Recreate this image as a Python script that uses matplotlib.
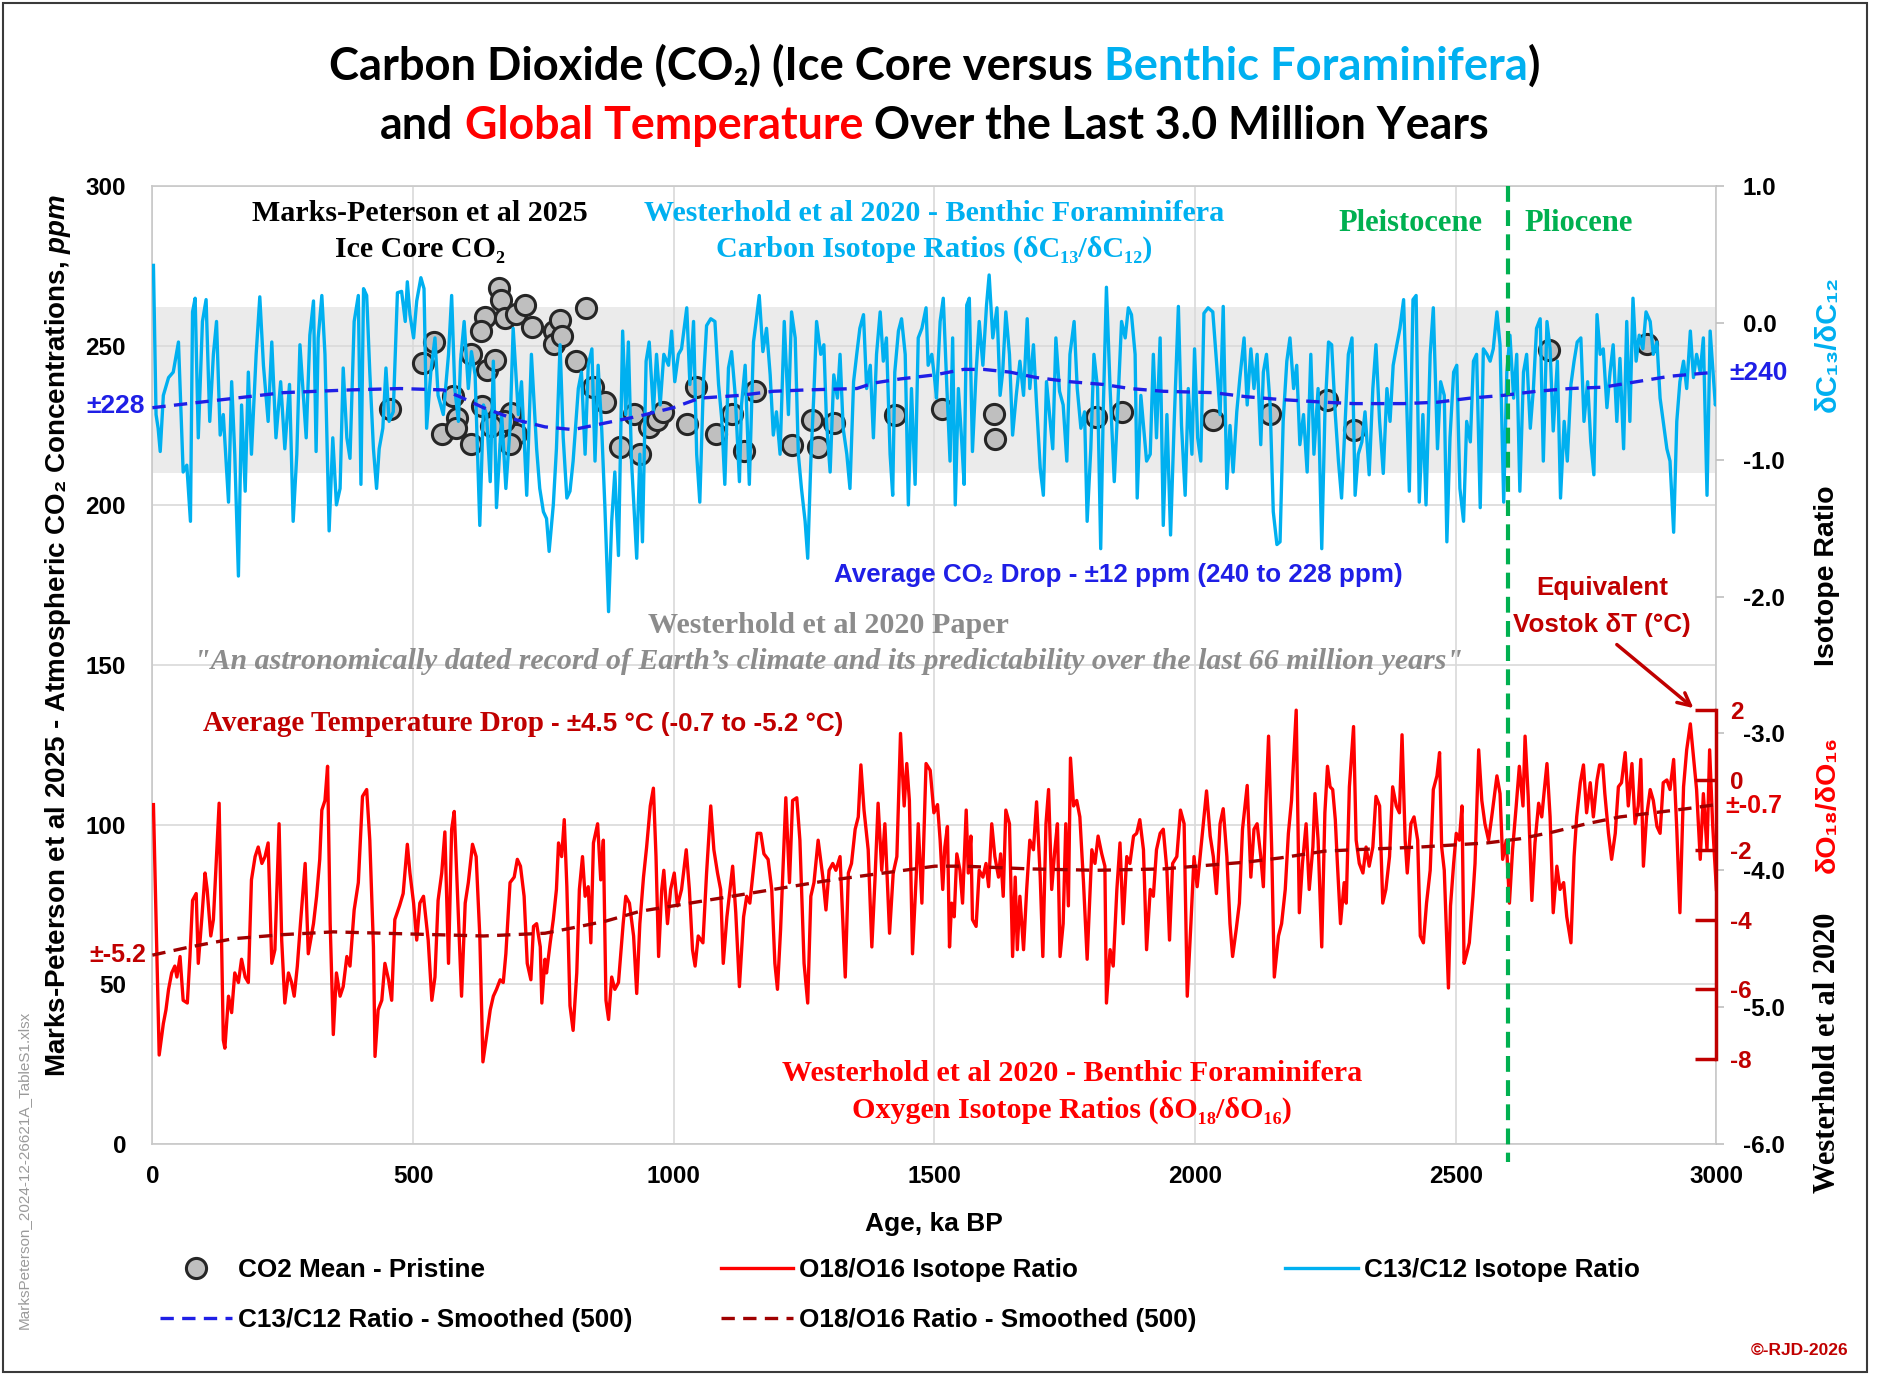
import matplotlib
matplotlib.use('Agg')
import matplotlib.pyplot as plt
from matplotlib.lines import Line2D
from matplotlib.patches import Rectangle
from matplotlib.ticker import FormatStrFormatter

# ----------------------------------------------------------------- data ----
# Ice core CO2 (Marks-Peterson et al 2025): (age ka BP, ppm)
co2_points = [
    (456, 230.1), (520, 244.7), (541, 251.1), (555, 222.2), (585, 227.4), (576, 234.2),
    (583, 224.1), (612, 219.2), (633, 231.2), (612, 247.4), (638, 259.0), (631, 254.5),
    (642, 242.5), (658, 245.5), (665, 268.0), (668, 264.3), (677, 258.6), (698, 259.8),
    (714, 262.8), (728, 256.0), (688, 229.0), (698, 222.2), (686, 219.2), (675, 226.3),
    (649, 224.8), (771, 254.5), (781, 257.9), (771, 250.4), (785, 253.0), (813, 245.1),
    (831, 261.7), (845, 237.2), (868, 232.3), (896, 218.4), (923, 228.6), (935, 216.2),
    (953, 224.4), (967, 226.7), (979, 229.3), (1025, 225.6), (1043, 237.2), (1082, 222.2),
    (1112, 228.6), (1135, 216.9), (1156, 235.7), (1227, 218.8), (1266, 226.7), (1276, 218.4),
    (1308, 225.9), (1425, 228.2), (1515, 230.1), (1614, 228.6), (1616, 220.7), (1810, 227.8),
    (1860, 229.3), (2035, 226.7), (2144, 228.6), (2254, 233.1), (2305, 223.7), (2678, 248.5),
    (2867, 250.4),
]

# Benthic foraminifera delta-13C (Westerhold et al 2020): (age ka, ratio)
c13_points = [
    (2, 0.42), (7, -0.67), (11, -0.77), (15, -0.94), (21, -0.53), (31, -0.40), (40, -0.36),
    (50, -0.14), (59, -1.09), (66, -1.04), (73, -1.45), (77, 0.08), (82, 0.18), (88, -0.84),
    (96, 0.01), (103, 0.17), (110, -0.72), (117, -0.23), (123, 0.01), (130, -0.82), (136, -0.67),
    (146, -1.31), (152, -0.43), (158, -0.96), (165, -1.85), (171, -0.60), (178, -1.23),
    (184, -0.36), (190, -0.96), (199, -0.23), (206, 0.19), (213, -0.31), (222, -0.72),
    (229, -0.14), (237, -0.84), (246, -0.43), (254, -0.92), (263, -0.45), (270, -1.45),
    (277, -0.96), (283, -0.16), (290, -0.55), (295, -0.84), (302, -0.09), (309, 0.16),
    (314, -0.94), (318, -0.11), (325, 0.20), (331, -0.23), (339, -1.52), (346, -0.84),
    (353, -1.33), (360, -1.21), (366, -0.33), (373, -0.84), (379, -0.99), (387, 0.01),
    (395, 0.20), (400, -1.18), (405, 0.25), (411, 0.20), (417, -0.36), (424, -0.92),
    (430, -1.21), (435, -0.92), (442, -0.77), (448, -0.33), (454, -0.72), (462, -0.65),
    (470, 0.22), (478, 0.23), (485, 0.01), (489, 0.30), (494, 0.06), (501, -0.11), (507, 0.16),
    (515, 0.33), (521, 0.25), (526, -0.77), (534, -0.36), (542, -0.11), (548, -0.53),
    (558, -0.67), (568, -0.23), (574, 0.20), (580, -0.48), (587, -0.72), (591, -0.28),
    (598, 0.01), (606, -0.48), (612, -0.21), (619, -0.38), (628, -1.48), (635, -0.60),
    (641, -0.67), (648, -1.16), (654, -0.28), (660, -1.35), (670, -0.67), (678, -1.21),
    (686, -0.77), (692, -0.04), (702, -0.67), (708, -0.43), (718, -1.26), (727, -0.23),
    (737, -0.92), (743, -1.21), (750, -1.38),
    (756, -1.43), (761, -1.67), (769, -1.33), (775, -0.92), (782, -0.16), (788, -0.84),
    (795, -1.28), (801, -1.23), (807, -1.01), (817, -0.48), (823, -0.36), (830, -0.96),
    (836, -0.31), (843, -0.19), (849, -1.01), (855, -0.31), (862, -0.79), (868, -1.35),
    (875, -2.11), (881, -1.45), (887, -1.09), (894, -1.70), (902, -0.06), (908, -0.67),
    (913, -0.14), (919, -1.01), (929, -1.72), (935, -0.96), (940, -1.60), (947, -0.28),
    (953, -0.14), (961, -0.65), (967, -0.23), (974, -0.60), (981, -0.23), (990, -0.31),
    (996, -0.06), (1002, -0.43), (1009, -0.23), (1015, -0.19), (1025, 0.11), (1031, -0.45),
    (1038, 0.01), (1044, -0.96), (1050, -1.31), (1057, -0.43), (1063, -0.02), (1071, 0.03),
    (1079, 0.01), (1086, -0.45), (1092, -0.70), (1098, -1.18), (1105, -0.33), (1111, -0.21),
    (1118, -0.53), (1126, -1.16), (1130, -0.60), (1137, -0.31), (1145, -1.18), (1153, -0.14),
    (1158, 0.01), (1164, 0.20), (1171, -0.21), (1178, -0.04), (1185, -0.38), (1191, -0.82),
    (1197, -0.65), (1204, -0.96), (1212, 0.01), (1220, -0.67), (1226, 0.08), (1233, -0.11),
    (1239, -0.96), (1245, -1.21), (1252, -1.45), (1257, -1.72), (1263, -1.01), (1269, -0.50),
    (1274, 0.01), (1282, -0.23), (1288, -0.16), (1293, -0.72), (1300, -1.09), (1307, -0.38),
    (1314, -0.55), (1319, -0.23), (1325, -0.77), (1332, -0.96), (1338, -1.21), (1345, -0.43),
    (1351, -0.23), (1357, -0.04), (1364, 0.06), (1370, -0.48), (1377, -0.31), (1383, -0.84),
    (1389, -0.23), (1396, 0.08), (1402, -0.28), (1408, -0.11), (1415, -0.96), (1420, -1.26),
    (1424, -0.36), (1431, -0.06), (1437, 0.03), (1444, -0.23), (1450, -1.33), (1456, -0.48),
    (1463, -1.18), (1469, -0.11), (1476, -0.04), (1484, 0.11), (1488, -0.31), (1495, -0.23),
    (1501, -0.43),
    (1504, -0.55), (1511, 0.01), (1517, 0.18), (1524, -0.48), (1530, -1.01), (1535, -0.11),
    (1540, -1.33), (1546, -0.48), (1552, -0.84), (1557, -1.18), (1562, 0.13), (1567, 0.18),
    (1573, -0.94), (1580, -0.36), (1586, 0.01), (1593, -0.31), (1600, 0.13), (1605, 0.35),
    (1612, -0.11), (1620, 0.11), (1626, -0.53), (1631, -0.36), (1637, 0.08), (1644, -0.23),
    (1650, -0.82), (1657, -0.53), (1664, -0.28), (1671, -0.53), (1678, 0.03), (1683, -0.48),
    (1690, -0.16), (1696, -0.60), (1703, -1.06), (1709, -1.26), (1715, -0.43), (1722, -0.72),
    (1727, -0.92), (1733, -0.11), (1740, -0.50), (1747, -0.60), (1754, -1.01), (1760, -0.23),
    (1768, 0.01), (1774, -0.48), (1781, -0.77), (1788, -0.65), (1793, -1.45), (1800, -0.92),
    (1806, -0.23), (1813, -0.48), (1819, -1.65), (1824, -0.62), (1830, 0.26), (1837, -0.48),
    (1845, -1.16), (1851, -0.67), (1859, 0.01), (1866, -0.11), (1872, 0.11), (1878, 0.06),
    (1885, -0.23), (1889, -1.28), (1896, -0.53), (1901, -0.75), (1907, -1.01), (1914, -0.96),
    (1920, -0.23), (1926, -0.84), (1933, -0.11), (1939, -1.48), (1946, -0.67), (1953, -1.55),
    (1960, -0.72), (1968, 0.12), (1974, -0.75), (1981, -1.26), (1987, -0.48), (1994, -0.96),
    (1999, -0.19), (2005, -0.84), (2011, -1.01), (2017, 0.07), (2025, 0.11), (2034, 0.08),
    (2042, -0.33), (2048, -0.67), (2054, 0.12), (2061, -1.21), (2067, -0.75), (2073, -1.09),
    (2080, -0.65), (2086, -0.40), (2094, -0.11), (2100, -0.60), (2107, -0.19), (2113, -0.48),
    (2119, -0.23), (2126, -0.89), (2131, -0.36), (2137, -0.23), (2144, -0.60), (2150, -1.38),
    (2157, -1.62), (2163, -1.60), (2169, -0.72), (2176, -0.28), (2182, -0.11), (2189, -0.48),
    (2195, -0.31), (2201, -0.89), (2208, -0.67), (2215, -1.09), (2222, -0.23), (2228, -0.96),
    (2236, -0.48), (2243, -1.65), (2249, -0.67),
    (2256, -0.14), (2262, -0.16), (2269, -0.67), (2275, -1.01), (2281, -1.28), (2288, -0.72),
    (2294, -0.23), (2301, -0.11), (2307, -1.26), (2313, -0.96), (2320, -0.87), (2326, -0.65),
    (2334, -1.11), (2341, -0.48), (2347, -0.16), (2354, -0.72), (2361, -1.10), (2368, -0.48),
    (2374, -0.72), (2380, -0.31), (2387, -0.16), (2393, -0.04), (2400, 0.17), (2406, -0.60),
    (2411, -1.23), (2418, 0.17), (2424, 0.20), (2430, -1.31), (2437, -0.67), (2443, -1.33),
    (2451, -0.23), (2457, 0.11), (2465, -0.92), (2471, -0.43), (2478, -0.53), (2483, -1.60),
    (2489, -0.84), (2496, -0.36), (2502, -0.31), (2508, -1.21), (2515, -1.45), (2521, -0.72),
    (2528, -0.87), (2534, -0.28), (2540, -0.23), (2547, -1.35), (2553, -0.19), (2560, -0.23),
    (2566, -0.28), (2572, -0.19), (2579, 0.08), (2585, -0.16), (2592, -1.31), (2598, -0.36),
    (2604, -0.09), (2611, -0.55), (2617, -0.23), (2623, -1.23), (2630, -0.36), (2636, -0.23),
    (2643, -0.77), (2649, -0.48), (2655, -0.04), (2662, 0.03), (2668, -1.01), (2675, 0.01),
    (2681, -0.19), (2687, -0.79), (2695, -0.28), (2701, -1.28), (2708, -0.72), (2714, -1.01),
    (2721, -0.45), (2727, -0.28), (2733, -0.14), (2740, -0.11), (2746, -0.72), (2753, -0.43),
    (2759, -0.87), (2765, -1.11), (2771, 0.06), (2777, -0.23), (2783, -0.19), (2790, -0.62),
    (2796, -0.36), (2802, -0.16), (2809, -0.72), (2815, -0.26), (2822, -0.92), (2828, 0.01),
    (2834, -0.72), (2840, 0.18), (2846, -0.28), (2852, -0.09), (2859, -0.19), (2865, 0.08),
    (2873, 0.01), (2879, -0.23), (2886, -0.14), (2892, -0.55), (2898, -0.72), (2905, -0.92),
    (2911, -1.01), (2918, -1.53), (2924, -0.72), (2930, -0.43), (2937, -0.28), (2943, -0.48),
    (2950, -0.06), (2956, -0.40), (2962, -0.23), (2969, -0.36), (2975, -0.11), (2982, -1.26),
    (2988, -0.06), (2998, -0.60), (3000, -0.55),
]

# delta-13C smoothed (500)
c13_smooth_points = [
    (0, -0.62), (91, -0.58), (251, -0.51), (379, -0.49), (475, -0.48), (558, -0.49),
    (590, -0.54), (635, -0.62), (699, -0.71), (753, -0.76), (807, -0.78), (871, -0.73),
    (935, -0.68), (999, -0.62), (1050, -0.55), (1127, -0.53), (1191, -0.50), (1255, -0.49),
    (1351, -0.48), (1383, -0.44), (1434, -0.41), (1501, -0.38), (1556, -0.34), (1594, -0.34),
    (1645, -0.36), (1696, -0.40), (1760, -0.43), (1824, -0.45), (1875, -0.48), (1939, -0.50),
    (2035, -0.51), (2099, -0.54), (2163, -0.56), (2249, -0.58), (2304, -0.59), (2400, -0.59),
    (2464, -0.58), (2528, -0.55), (2591, -0.53), (2655, -0.50), (2719, -0.48), (2783, -0.47),
    (2847, -0.43), (2911, -0.39), (3000, -0.36),
]

# Benthic foraminifera delta-18O (Westerhold et al 2020): (age ka, ratio)
o18_points = [
    (2, -3.52), (13, -5.35), (21, -5.12), (26, -5.02), (31, -4.87), (37, -4.75), (43, -4.70),
    (47, -4.78), (53, -4.63), (59, -4.95), (67, -4.97), (72, -4.63), (77, -4.22), (84, -4.17),
    (88, -4.68), (95, -4.34), (101, -4.02), (105, -4.14), (112, -4.48), (117, -4.36),
    (128, -3.51), (136, -5.24), (139, -5.30), (146, -4.92), (152, -5.04), (158, -4.75),
    (165, -4.82), (171, -4.65), (178, -4.78), (184, -4.82), (190, -4.07), (197, -3.90),
    (203, -3.83), (210, -3.95), (216, -3.90), (222, -3.80), (229, -4.68), (235, -4.58),
    (243, -3.66), (248, -4.51), (254, -4.97), (261, -4.75), (267, -4.82), (272, -4.92),
    (278, -4.70), (284, -4.39), (293, -3.95), (299, -4.61), (309, -4.39), (315, -4.19),
    (321, -3.92), (325, -3.56), (331, -3.49), (336, -3.24), (341, -4.39), (347, -5.20),
    (353, -4.75), (360, -4.92), (366, -4.85), (373, -4.63), (379, -4.70), (387, -4.29),
    (395, -4.09), (403, -3.46), (411, -3.41), (417, -3.78), (424, -4.56), (427, -5.36),
    (433, -5.02), (440, -4.95), (446, -4.68), (453, -4.80), (459, -4.95), (465, -4.36),
    (474, -4.26), (481, -4.17), (489, -3.81), (494, -4.02), (501, -4.24), (507, -4.51),
    (513, -4.24), (520, -4.19), (529, -4.51), (536, -4.95), (542, -4.78), (548, -4.22),
    (555, -4.02), (561, -3.72), (568, -4.68), (574, -3.70), (579, -3.57), (585, -4.14),
    (593, -4.92), (600, -4.24), (606, -4.09), (614, -3.81), (621, -3.90), (628, -4.48),
    (634, -5.40), (640, -5.24), (648, -5.02), (654, -4.92), (660, -4.87), (667, -4.80),
    (673, -4.82), (678, -4.61), (686, -4.09), (694, -4.05), (700, -3.92), (706, -3.97),
    (713, -4.19), (719, -4.68), (726, -4.80), (731, -4.41), (737, -4.39), (744, -4.56),
    (747, -4.97), (753, -4.65),
    (756, -4.75), (763, -4.53), (769, -4.36), (775, -4.14), (779, -3.80), (785, -3.90),
    (790, -3.63), (795, -4.12), (801, -4.99), (807, -5.17), (814, -4.75), (819, -4.14),
    (825, -3.90), (830, -4.19), (836, -4.12), (841, -4.53), (846, -3.80), (854, -3.66),
    (860, -4.07), (865, -3.78), (870, -4.95), (875, -5.09), (881, -4.78), (887, -4.87),
    (894, -4.82), (898, -4.63), (903, -4.39), (908, -4.19), (915, -4.24), (923, -4.48),
    (929, -4.90), (935, -4.39), (942, -4.05), (948, -3.83), (955, -3.53), (961, -3.40),
    (966, -3.90), (971, -4.63), (977, -4.14), (981, -4.00), (988, -4.39), (994, -4.14),
    (1001, -4.02), (1007, -4.26), (1015, -4.14), (1024, -3.85), (1030, -4.14), (1036, -4.58),
    (1041, -4.70), (1047, -4.48), (1056, -4.53), (1063, -4.02), (1071, -3.53), (1077, -3.85),
    (1084, -4.02), (1090, -4.14), (1095, -4.68), (1102, -4.34), (1108, -4.14), (1113, -3.97),
    (1119, -4.31), (1126, -4.85), (1134, -4.34), (1140, -4.19), (1146, -4.24), (1154, -3.95),
    (1160, -3.73), (1167, -3.73), (1173, -3.88), (1181, -3.92), (1188, -4.14), (1194, -4.68),
    (1199, -4.87), (1205, -4.43), (1210, -3.95), (1215, -3.47), (1222, -4.09), (1228, -3.49),
    (1236, -3.47), (1242, -3.78), (1250, -4.68), (1257, -4.97), (1263, -4.19), (1269, -4.09),
    (1277, -3.78), (1286, -4.05), (1292, -4.29), (1298, -4.00), (1305, -3.95), (1311, -4.00),
    (1319, -3.90), (1329, -4.78), (1335, -4.02), (1341, -3.95), (1348, -3.70), (1354, -3.61),
    (1359, -3.23), (1365, -3.56), (1373, -3.85), (1380, -4.56), (1386, -4.07), (1392, -3.51),
    (1399, -4.00), (1405, -3.66), (1414, -4.46), (1421, -4.02), (1428, -3.90), (1435, -3.00),
    (1442, -3.53), (1447, -3.22), (1452, -3.49), (1458, -4.61), (1465, -4.05), (1469, -3.66),
    (1476, -4.24), (1484, -3.22), (1492, -3.27), (1499, -3.58),
    (1506, -3.52), (1511, -3.78), (1516, -4.14), (1520, -3.83), (1525, -3.68), (1529, -4.56),
    (1533, -4.24), (1538, -4.34), (1543, -3.88), (1549, -4.00), (1554, -4.24), (1561, -3.56),
    (1565, -4.02), (1570, -3.75), (1573, -4.36), (1580, -4.41), (1586, -4.00), (1593, -4.05),
    (1599, -3.95), (1604, -4.12), (1610, -3.66), (1616, -3.90), (1623, -4.05), (1627, -3.88),
    (1632, -4.19), (1637, -3.56), (1644, -3.66), (1650, -4.63), (1655, -4.05), (1659, -4.58),
    (1664, -4.19), (1671, -4.58), (1677, -4.14), (1683, -3.78), (1690, -3.85), (1696, -3.50),
    (1703, -4.05), (1708, -4.63), (1714, -3.66), (1719, -3.41), (1725, -4.14), (1731, -3.85),
    (1736, -3.66), (1741, -4.63), (1747, -4.39), (1752, -3.66), (1757, -4.26), (1761, -3.18),
    (1767, -3.53), (1773, -3.49), (1779, -3.61), (1786, -4.09), (1793, -4.65), (1802, -3.85),
    (1808, -3.95), (1814, -3.75), (1821, -3.88), (1827, -3.97), (1830, -4.97), (1837, -4.58),
    (1843, -4.70), (1850, -4.14), (1856, -3.80), (1862, -4.39), (1869, -3.90), (1875, -3.95),
    (1882, -3.75), (1888, -3.73), (1894, -3.63), (1901, -3.85), (1907, -4.58), (1914, -4.14),
    (1920, -4.19), (1926, -3.85), (1933, -3.73), (1939, -3.70), (1946, -4.00), (1951, -4.51),
    (1957, -3.95), (1965, -3.90), (1972, -3.56), (1979, -3.66), (1985, -4.92), (1992, -4.39),
    (1998, -3.90), (2004, -4.12), (2011, -3.85), (2016, -3.66), (2022, -3.42), (2029, -3.75),
    (2035, -3.90), (2041, -4.17), (2048, -3.66), (2054, -3.55), (2061, -3.90), (2067, -4.39),
    (2072, -4.63), (2079, -4.43), (2085, -4.24), (2091, -3.70), (2100, -3.38), (2107, -4.05),
    (2113, -3.70), (2119, -3.66), (2126, -3.90), (2131, -4.12), (2136, -3.49), (2141, -3.02),
    (2147, -3.85), (2152, -4.78), (2160, -4.48), (2166, -4.39), (2173, -4.14), (2179, -3.73),
    (2185, -3.49), (2194, -2.83), (2200, -4.31), (2206, -3.95), (2213, -3.66), (2219, -4.14),
    (2226, -3.83), (2230, -3.44), (2236, -3.78), (2243, -4.56), (2249, -3.58),
    (2254, -3.24), (2259, -3.39), (2264, -3.41), (2269, -3.63), (2273, -3.95), (2279, -4.39),
    (2286, -4.09), (2290, -4.24), (2296, -3.39), (2304, -2.95), (2309, -3.78), (2315, -3.95),
    (2322, -4.02), (2328, -3.83), (2334, -3.97), (2341, -3.83), (2347, -3.46), (2354, -3.53),
    (2360, -4.24), (2366, -4.14), (2373, -3.90), (2379, -3.39), (2386, -3.53), (2392, -3.58),
    (2397, -3.01), (2403, -3.78), (2407, -4.02), (2414, -3.66), (2420, -3.61), (2427, -3.78),
    (2432, -4.48), (2438, -4.53), (2444, -4.24), (2451, -4.00), (2457, -3.41), (2464, -3.31),
    (2469, -3.14), (2473, -3.83), (2478, -4.00), (2486, -4.86), (2490, -4.26), (2496, -3.95),
    (2501, -3.73), (2507, -3.78), (2512, -3.53), (2516, -4.68), (2521, -4.61), (2526, -4.53),
    (2533, -4.19), (2537, -3.95), (2544, -3.12), (2550, -3.49), (2556, -3.66), (2563, -3.78),
    (2569, -3.61), (2574, -3.46), (2579, -3.31), (2585, -3.44), (2590, -3.92), (2597, -3.78),
    (2603, -4.24), (2609, -3.85), (2616, -3.53), (2622, -3.24), (2629, -3.53), (2633, -3.02),
    (2639, -3.46), (2646, -4.22), (2652, -3.80), (2659, -3.51), (2665, -3.61), (2670, -3.41),
    (2675, -3.22), (2681, -3.61), (2687, -4.31), (2694, -3.97), (2700, -4.14), (2707, -4.09),
    (2713, -4.34), (2721, -4.53), (2727, -3.90), (2732, -3.61), (2739, -3.36), (2745, -3.23),
    (2751, -3.58), (2758, -3.36), (2764, -3.61), (2771, -3.34), (2776, -3.23), (2782, -3.23),
    (2786, -3.44), (2793, -3.73), (2799, -3.92), (2806, -3.73), (2812, -3.39), (2818, -3.36),
    (2825, -3.14), (2831, -3.53), (2838, -3.22), (2844, -3.66), (2850, -3.53), (2855, -3.19),
    (2860, -3.97), (2866, -3.61), (2873, -3.41), (2879, -3.49), (2886, -3.68), (2892, -3.73),
    (2898, -3.36), (2905, -3.34), (2911, -3.41), (2918, -3.19), (2924, -3.70), (2930, -4.31),
    (2937, -3.39), (2943, -3.12), (2950, -2.93), (2956, -3.17), (2962, -3.41), (2969, -3.92),
    (2975, -3.44), (2982, -3.85), (2987, -3.12), (2993, -3.68), (3000, -4.14),
]

# delta-18O smoothed (500)
o18_smooth_points = [
    (0, -4.62), (72, -4.56), (155, -4.50), (251, -4.47), (347, -4.45), (443, -4.46),
    (539, -4.47), (635, -4.48), (753, -4.46), (807, -4.42), (871, -4.37), (935, -4.30),
    (999, -4.26), (1095, -4.20), (1191, -4.14), (1287, -4.08), (1383, -4.03), (1501, -3.97),
    (1556, -3.97), (1683, -3.99), (1811, -4.00), (1939, -3.99), (2035, -3.96), (2099, -3.94),
    (2163, -3.91), (2249, -3.86), (2304, -3.85), (2432, -3.83), (2560, -3.80), (2623, -3.77),
    (2687, -3.72), (2751, -3.66), (2815, -3.61), (2879, -3.58), (2943, -3.55), (3000, -3.52),
]

x_ticks = [0, 500, 1000, 1500, 2000, 2500, 3000]
ppm_ticks = [0, 50, 100, 150, 200, 250, 300]
iso_ticks = [-6.0, -5.0, -4.0, -3.0, -2.0, -1.0, 0.0, 1.0]
temp_ticks = [2, 0, -2, -4, -6, -8]
band_ppm = (210, 262)            # grey band
pliocene_boundary = 2600          # ka
T_ZERO_ISO = -3.34                # d18O value equivalent to 0 degC (Vostok dT)
T_PER_ISO = 3.92                  # degC per unit of d18O
co2_avg_old, co2_avg_young = 240, 228

# ---------------------------------------------------------------- style ----
plt.rcParams['font.family'] = ['Liberation Sans', 'DejaVu Sans']
plt.rcParams['axes.unicode_minus'] = False
plt.rcParams['mathtext.fontset'] = 'custom'
plt.rcParams['mathtext.it'] = 'Liberation Sans:italic:bold'
plt.rcParams['mathtext.rm'] = 'Liberation Sans:bold'
plt.rcParams['mathtext.bf'] = 'Liberation Sans:bold'

SANS = ['Liberation Sans', 'DejaVu Sans']
SERIF = ['Liberation Serif', 'DejaVu Serif']
TITLEF = ['Lato', 'DejaVu Sans']
LIGHTBLUE = '#00B0F0'
RED = '#FF0000'
DARKRED = '#C00000'
BLUE = '#1F1FE6'
GREEN = '#00B050'
GREYTXT = '#8C8C8C'

W, H = 1882, 1375
fig = plt.figure(figsize=(W / 100, H / 100), dpi=100)
ax = fig.add_axes([152.4 / W, 1 - 1144 / H, 1564 / W, 958 / H])

ax.set_xlim(0, 3000)
ax.set_ylim(0, 300)
ax.set_xticks(x_ticks)
ax.set_yticks(ppm_ticks)
ax.grid(True, color='#D9D9D9', lw=1.2)
ax.set_axisbelow(True)
for s in ax.spines.values():
    s.set_color('#C8C8C8')
    s.set_linewidth(1.2)
ax.tick_params(axis='both', length=0, labelsize=17.5)
ax.tick_params(axis='x', pad=15)
ax.tick_params(axis='y', pad=19)
for lab in ax.get_xticklabels() + ax.get_yticklabels():
    lab.set_fontweight('bold')
ax.axhspan(band_ppm[0], band_ppm[1], color='#EBEBEB', zorder=0.3, lw=0)

co2_age = [a for a, _ in co2_points]
co2_ppm = [v for _, v in co2_points]
ax.plot(co2_age, co2_ppm, ls='none', marker='o', ms=14.5, mfc='#BFBFBF',
        mec='#262626', mew=2.2, zorder=2)

# isotope axis
ax2 = ax.twinx()
ax2.set_ylim(-6, 1)
ax2.set_yticks(iso_ticks)
ax2.yaxis.set_major_formatter(FormatStrFormatter('%.1f'))
for s in ax2.spines.values():
    s.set_visible(False)
ax2.tick_params(axis='y', direction='out', length=6, width=1.2, color='#BFBFBF',
                labelsize=17.5, pad=13)
for lab in ax2.get_yticklabels():
    lab.set_fontweight('bold')

c13_age = [a for a, _ in c13_points]
c13_val = [v for _, v in c13_points]
c13s_age = [a for a, _ in c13_smooth_points]
c13s_val = [v for _, v in c13_smooth_points]
o18_age = [a for a, _ in o18_points]
o18_val = [v for _, v in o18_points]
o18s_age = [a for a, _ in o18_smooth_points]
o18s_val = [v for _, v in o18_smooth_points]

ax2.plot(c13_age, c13_val, color=LIGHTBLUE, lw=2.4, zorder=2)
ax2.plot(o18_age, o18_val, color=RED, lw=2.4, zorder=2)
ax2.plot(c13s_age, c13s_val, color=BLUE, lw=2.4, ls=(0, (4, 2.5)), zorder=3)
ax2.plot(o18s_age, o18s_val, color='#A00000', lw=2.4, ls=(0, (4, 2.5)), zorder=3)
ax2.plot([pliocene_boundary, pliocene_boundary], [1.0, -6.13], color=GREEN, lw=3.0,
         ls=(0, (3.8, 2.0)), zorder=4, clip_on=False)

# temperature axis (Vostok dT)
ax3 = ax.twinx()
ax3.set_ylim((-6 - T_ZERO_ISO) * T_PER_ISO, (1 - T_ZERO_ISO) * T_PER_ISO)
for k, s in ax3.spines.items():
    s.set_visible(k == 'right')
ax3.spines['right'].set_bounds(min(temp_ticks), max(temp_ticks))
ax3.spines['right'].set_color(DARKRED)
ax3.spines['right'].set_linewidth(2.5)
ax3.set_yticks(temp_ticks, labels=[f'{t:g}' for t in temp_ticks])
ax3.tick_params(axis='y', direction='in', length=15, width=2.5, color=DARKRED,
                labelcolor=DARKRED, labelsize=17.5, pad=10)
for lab in ax3.get_yticklabels():
    lab.set_fontweight('bold')

# ---------------------------------------------------------- annotations ----
dT = ax.transData
def t3(x, y, s, **kw):
    kw.setdefault('ha', 'center')
    kw.setdefault('va', 'center')
    kw.setdefault('fontweight', 'bold')
    return ax3.text(x, y, s, transform=dT, zorder=10, **kw)

t3(513, 291.4, 'Marks-Peterson et al 2025', family=SERIF, size=21.6, color='black')
t3(513, 280.1, 'Ice Core CO\u2082', family=SERIF, size=21.6, color='black')
t3(1499, 291.4, 'Westerhold et al 2020 - Benthic Foraminifera', family=SERIF, size=21.7,
   color=LIGHTBLUE)
t3(1499, 280.1, 'Carbon Isotope Ratios (\u03b4C\u2081\u2083/\u03b4C\u2081\u2082)', family=SERIF,
   size=21.7, color=LIGHTBLUE)
t3(2413, 288.3, 'Pleistocene', family=SERIF, size=22, color=GREEN)
t3(2735, 288.3, 'Pliocene', family=SERIF, size=22, color=GREEN)
t3(1853, 178.2, 'Average CO\u2082 Drop - \u00b112 ppm (%d to %d ppm)' % (co2_avg_old, co2_avg_young),
   family=SANS, size=18.7, color=BLUE)
t3(1296, 162.4, 'Westerhold et al 2020 Paper', family=SERIF, size=21.7, color=GREYTXT)
t3(1296, 151.1, '"An astronomically dated record of Earth\u2019s climate and its predictability '
   'over the last 66 million years"', family=SERIF, size=21.5, style='italic', color=GREYTXT)
t3(2781, 174.1, 'Equivalent', family=SANS, size=18.7, color=DARKRED)
t3(2781, 162.4, 'Vostok \u03b4T (\u00b0C)', family=SANS, size=18.7, color=DARKRED)
t3(1764, 22.2, 'Westerhold et al 2020 - Benthic Foraminifera', family=SERIF, size=21.7, color=RED)
t3(1764, 10.6, 'Oxygen Isotope Ratios (\u03b4O\u2081\u2088/\u03b4O\u2081\u2086)', family=SERIF,
   size=21.7, color=RED)

ax3.annotate('', xy=(2956, 136.5), xytext=(2809, 156.4), xycoords=dT, textcoords=dT,
             arrowprops=dict(arrowstyle='->,head_length=0.9,head_width=0.45',
                             color=DARKRED, lw=2.5, shrinkA=0, shrinkB=0), zorder=10)

# value labels beside the axes
ax3.text(-0.005, -0.61, '\u00b1%d' % co2_avg_young, transform=ax2.get_yaxis_transform(),
         ha='right', va='center', color=BLUE, size=19, fontweight='bold')
ax3.text(-0.004, -4.62, '\u00b1-5.2', transform=ax2.get_yaxis_transform(),
         ha='right', va='center', color=DARKRED, size=18, fontweight='bold')
ax3.text(1.0086, -0.37, '\u00b1%d' % co2_avg_old, transform=ax2.get_yaxis_transform(),
         ha='left', va='center', color=BLUE, size=19, fontweight='bold')
ax3.text(1.006, -3.53, '\u00b1-0.7', transform=ax2.get_yaxis_transform(),
         ha='left', va='center', color='#E00000', size=18, fontweight='bold')

# ------------------------------------------------------ figure-level text ----
def place_parts(xc, y, parts, **kw):
    r = fig.canvas.get_renderer()
    probe = fig.text(0, 0, 'x x', **kw)
    w2 = probe.get_window_extent(r).width
    probe.set_text('xx')
    w1 = probe.get_window_extent(r).width
    probe.remove()
    sp = w2 - w1
    items = []
    for s, c in parts:
        t = fig.text(0, y, s.strip(), color=c, ha='left', va='baseline', **kw)
        w = t.get_window_extent(r).width
        lead = (len(s) - len(s.lstrip(' '))) * sp
        trail = (len(s) - len(s.rstrip(' '))) * sp
        items.append((t, lead, w, trail))
    total = sum(a + b + c for _, a, b, c in items)
    x = xc * fig.bbox.width - total / 2
    for t, a, w, b in items:
        x += a
        t.set_x(x / fig.bbox.width)
        x += w + b

place_parts(0.4965, 1 - 80 / H,
            [('Carbon Dioxide (CO\u2082) (Ice Core versus ', 'black'),
             ('Benthic Foraminifera', LIGHTBLUE), (')', 'black')],
            family=TITLEF, size=32.6, fontweight='bold')
place_parts(0.4965, 1 - 139 / H,
            [('and ', 'black'), ('Global Temperature', RED),
             (' Over the Last 3.0 Million Years', 'black')],
            family=TITLEF, size=32.2, fontweight='bold')

# temperature drop text: serif part + sans part
place_parts(523 / W, 1 - 731 / H,
            [('Average Temperature Drop ', DARKRED)], family=SERIF, size=21, fontweight='bold')
r = fig.canvas.get_renderer()
tmp_a = [t for t in fig.texts if t.get_text() == 'Average Temperature Drop'][0]
part_b = fig.text(0, 1 - 731 / H, '- \u00b14.5 \u00b0C (-0.7 to -5.2 \u00b0C)', family=SANS,
                  size=18.7, fontweight='bold', color=DARKRED, va='baseline')
wa = tmp_a.get_window_extent(r).width
wb = part_b.get_window_extent(r).width
gap = 7
x0 = 523 - (wa + gap + wb) / 2
tmp_a.set_x(x0 / W)
part_b.set_x((x0 + wa + gap) / W)

fig.text(0.0306, 0.538,
         'Marks-Peterson et al 2025 - Atmospheric CO\u2082 Concentrations, $\\mathit{ppm}$',
         rotation=90, ha='center', va='center', size=20, fontweight='bold', family=SANS)
fig.text(0.971, 0.750, '\u03b4C\u2081\u2083/\u03b4C\u2081\u2082', rotation=90, ha='center',
         va='center', size=21, fontweight='bold', color=LIGHTBLUE, family=SANS)
fig.text(0.971, 0.581, 'Isotope Ratio', rotation=90, ha='center', va='center', size=20.5,
         fontweight='bold', color='black', family=SANS)
fig.text(0.971, 0.415, '\u03b4O\u2081\u2088/\u03b4O\u2081\u2086', rotation=90, ha='center',
         va='center', size=20.5, fontweight='bold', color=RED, family=SANS)
fig.text(0.971, 0.234, 'Westerhold et al 2020', rotation=90, ha='center', va='center',
         size=22, fontweight='bold', color='black', family=SERIF)
fig.text(0.4965, 1 - 1224 / H, 'Age, ka BP', ha='center', va='center', size=19,
         fontweight='bold')
fig.text(0.0128, 0.149, 'MarksPeterson_2024-12-26621A_TableS1.xlsx', rotation=90,
         ha='center', va='center', size=11, color='#9A9A9A', family=SANS)
fig.text(0.9564, 0.018, '\u00a9-RJD-2026', ha='center', va='center', size=12.5,
         fontweight='bold', color=DARKRED)

# legend
h_co2 = Line2D([], [], ls='none', marker='o', ms=14.5, mfc='#BFBFBF', mec='#262626', mew=2.2)
h_o18 = Line2D([], [], color=RED, lw=2.4)
h_c13 = Line2D([], [], color=LIGHTBLUE, lw=2.4)
h_c13s = Line2D([], [], color=BLUE, lw=2.4, ls=(0, (4, 2.5)))
h_o18s = Line2D([], [], color='#A00000', lw=2.4, ls=(0, (4, 2.5)))
leg = fig.legend([h_co2, h_c13s, h_o18, h_o18s, h_c13],
                 ['CO2 Mean - Pristine', 'C13/C12 Ratio - Smoothed (500)',
                  'O18/O16 Isotope Ratio', 'O18/O16 Ratio - Smoothed (500)',
                  'C13/C12 Isotope Ratio'],
                 ncol=3, loc='upper left', bbox_to_anchor=(160 / W, 1 - 1258 / H),
                 frameon=False, prop={'family': SANS, 'weight': 'bold', 'size': 18.8},
                 handlelength=2.76, handletextpad=0.23, columnspacing=3.4,
                 labelspacing=1.0, borderpad=0, borderaxespad=0, numpoints=1)

fig.patches.append(Rectangle((0.0015, 0.002), 0.9905, 0.9955, transform=fig.transFigure,
                             fill=False, edgecolor='#3A3A3A', lw=1.5))

fig.savefig('out.png', dpi=100)
